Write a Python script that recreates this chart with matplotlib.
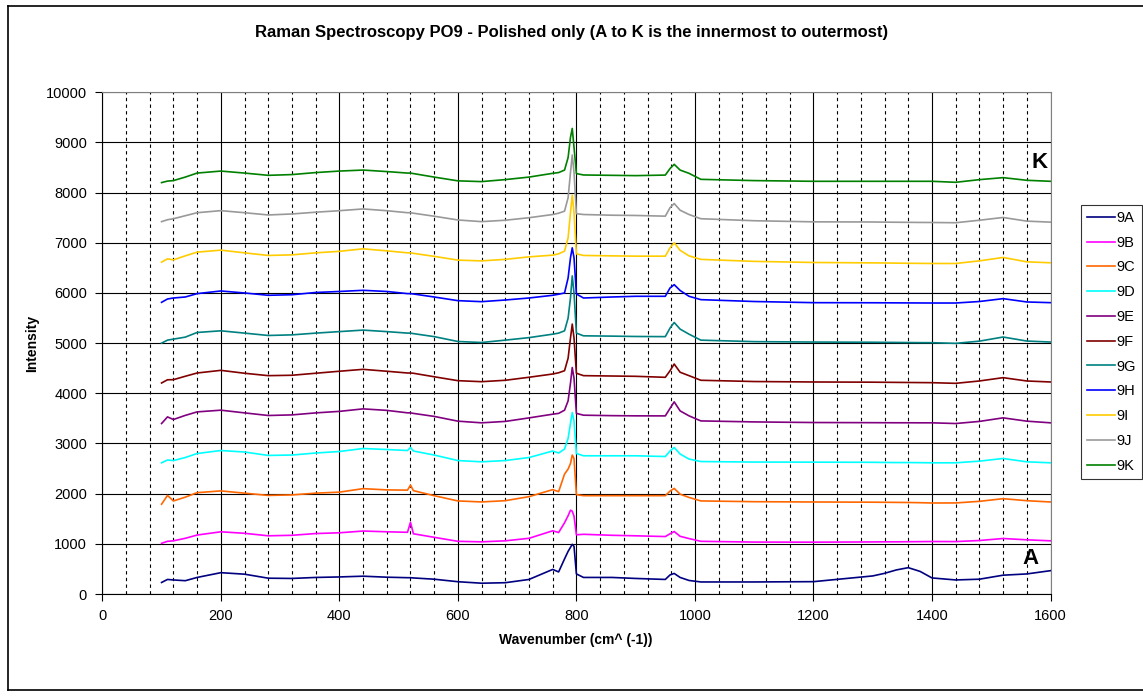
#!/usr/bin/env python3
# -*- coding: utf-8 -*-

from matplotlib import pyplot as plt
from matplotlib.lines import Line2D
import numpy as np

plt.rcParams['font.family'] = ['Liberation Sans', 'DejaVu Sans']

# Wavenumber points (cm^-1)
wavenumber = [100, 110, 120, 140, 160, 200, 240, 280, 320, 360,
              400, 440, 480, 515, 520, 525, 560, 600, 640, 680,
              720, 760, 770, 780, 786, 790, 793, 796, 800, 812,
              860, 900, 950, 958, 965, 975, 990, 1010, 1100, 1200,
              1300, 1320, 1340, 1360, 1380, 1400, 1440, 1480, 1520, 1560,
              1600]

s9A = [230, 290, 280, 265, 330, 425, 395, 315, 310, 330,
       340, 355, 335, 325, 325, 320, 295, 245, 215, 225,
       290, 490, 440, 700, 850, 930, 990, 950, 400, 330,
       330, 310, 290, 380, 410, 330, 270, 240, 240, 246,
       360, 412, 480, 525, 450, 320, 280, 295, 375, 400,
       465]
s9B = [1010, 1050, 1060, 1110, 1175, 1240, 1210, 1160, 1170, 1205,
       1220, 1255, 1240, 1230, 1430, 1200, 1130, 1050, 1040, 1060,
       1110, 1260, 1225, 1420, 1560, 1670, 1650, 1550, 1180, 1190,
       1170, 1160, 1145, 1200, 1245, 1150, 1105, 1050, 1035, 1033,
       1038, 1040, 1040, 1042, 1044, 1046, 1045, 1066, 1106, 1080,
       1060]
s9C = [1790, 1965, 1855, 1930, 2020, 2055, 2010, 1965, 1975, 2010,
       2030, 2100, 2075, 2070, 2170, 2060, 1960, 1855, 1835, 1860,
       1940, 2080, 2040, 2390, 2490, 2600, 2770, 2700, 1980, 1960,
       1960, 1960, 1960, 2050, 2105, 1990, 1925, 1855, 1840, 1834,
       1830, 1828, 1826, 1824, 1820, 1814, 1815, 1847, 1900, 1860,
       1834]
s9D = [2615, 2670, 2660, 2720, 2800, 2860, 2830, 2762, 2770, 2810,
       2840, 2900, 2880, 2860, 2920, 2850, 2770, 2660, 2635, 2660,
       2720, 2850, 2810, 2890, 3100, 3400, 3617, 3450, 2800, 2755,
       2755, 2755, 2740, 2850, 2920, 2790, 2690, 2640, 2630, 2628,
       2625, 2622, 2620, 2620, 2618, 2615, 2615, 2648, 2701, 2635,
       2615]
s9E = [3398, 3530, 3478, 3560, 3630, 3664, 3610, 3558, 3570, 3610,
       3640, 3690, 3660, 3611, 3611, 3600, 3540, 3445, 3412, 3440,
       3510, 3584, 3600, 3664, 3850, 4200, 4514, 4300, 3600, 3564,
       3555, 3551, 3550, 3700, 3830, 3650, 3551, 3450, 3430, 3418,
       3415, 3414, 3413, 3413, 3412, 3412, 3398, 3440, 3511, 3445,
       3412]
s9F = [4206, 4270, 4272, 4340, 4405, 4458, 4400, 4352, 4360, 4400,
       4440, 4478, 4440, 4405, 4405, 4400, 4330, 4252, 4232, 4260,
       4320, 4385, 4410, 4451, 4700, 5100, 5380, 5100, 4400, 4352,
       4345, 4339, 4319, 4450, 4584, 4420, 4352, 4260, 4235, 4226,
       4222, 4220, 4218, 4216, 4214, 4212, 4199, 4246, 4312, 4246,
       4226]
s9G = [5000, 5060, 5080, 5120, 5213, 5246, 5200, 5153, 5165, 5200,
       5230, 5260, 5230, 5200, 5200, 5190, 5130, 5033, 5013, 5060,
       5110, 5179, 5200, 5246, 5500, 5900, 6340, 6000, 5200, 5146,
       5140, 5133, 5130, 5300, 5412, 5280, 5179, 5060, 5030, 5022,
       5018, 5016, 5014, 5012, 5010, 5009, 4996, 5040, 5122, 5042,
       5022]
s9H = [5814, 5880, 5900, 5920, 5987, 6040, 6000, 5954, 5965, 6010,
       6030, 6053, 6030, 5987, 5987, 5980, 5920, 5847, 5827, 5860,
       5900, 5954, 5975, 6000, 6300, 6700, 6900, 6700, 5980, 5900,
       5920, 5934, 5934, 6100, 6166, 6050, 5934, 5867, 5830, 5807,
       5805, 5804, 5803, 5802, 5801, 5800, 5800, 5830, 5887, 5821,
       5807]
s9I = [6615, 6680, 6660, 6740, 6814, 6854, 6800, 6748, 6760, 6800,
       6830, 6880, 6840, 6800, 6800, 6790, 6730, 6655, 6640, 6670,
       6720, 6754, 6780, 6834, 7100, 7600, 7950, 7600, 6780, 6748,
       6740, 6734, 6734, 6900, 7000, 6850, 6740, 6670, 6630, 6608,
       6600, 6598, 6595, 6592, 6590, 6588, 6588, 6640, 6708, 6621,
       6602]
s9J = [7422, 7460, 7480, 7540, 7600, 7641, 7600, 7555, 7575, 7610,
       7640, 7675, 7640, 7600, 7600, 7590, 7530, 7455, 7422, 7450,
       7500, 7564, 7590, 7631, 7900, 8400, 8750, 8400, 7580, 7564,
       7550, 7545, 7531, 7700, 7783, 7650, 7564, 7480, 7440, 7418,
       7415, 7412, 7410, 7408, 7406, 7405, 7400, 7450, 7505, 7432,
       7412]
s9K = [8200, 8230, 8240, 8310, 8390, 8430, 8390, 8345, 8360, 8400,
       8430, 8450, 8420, 8390, 8390, 8380, 8310, 8235, 8220, 8260,
       8310, 8385, 8400, 8450, 8700, 9100, 9280, 8900, 8380, 8352,
       8345, 8339, 8350, 8480, 8564, 8450, 8385, 8265, 8240, 8226,
       8226, 8226, 8226, 8226, 8226, 8226, 8206, 8259, 8299, 8246,
       8226]

labels = ['9A', '9B', '9C', '9D', '9E', '9F', '9G', '9H', '9I', '9J', '9K']
series = [s9A, s9B, s9C, s9D, s9E, s9F, s9G, s9H, s9I, s9J, s9K]
colors = ['#000080', '#FF00FF', '#FF6600', '#00FFFF', '#800080', '#800000',
          '#008080', '#0000FF', '#FFCC00', '#999999', '#008000']

W, H = 1143, 697
fig = plt.figure(figsize=(W / 100, H / 100), dpi=100)
# plot area in pixels : x 102 -> 1050, y 92 -> 594
ax = fig.add_axes([102.3 / W, 1 - 594 / H, (1050.5 - 102.3) / W, (594 - 92.3) / H])

for y, lab, c in zip(series, labels, colors):
    ax.plot(wavenumber, y, color=c, lw=1.2, label=lab)

ax.set_xlim(0, 1600)
ax.set_ylim(0, 10000)
ax.set_xticks(np.arange(0, 1601, 200))
ax.set_yticks(np.arange(0, 10001, 1000))
ax.set_xticks(np.arange(40, 1600, 40), minor=True)
ax.tick_params(axis='both', which='major', direction='out', length=5, width=0.8,
               labelsize=10.5, pad=6)
ax.tick_params(axis='x', which='minor', length=0)

# grille facon Excel
ax.set_axisbelow(True)
ax.grid(True, which='major', axis='both', color='black', lw=0.8)
ax.grid(True, which='minor', axis='x', color='black', lw=0.8, linestyle=(0, (3, 3)))

ax.spines['top'].set_color('#808080')
ax.spines['right'].set_color('#808080')
ax.spines['left'].set_color('black')
ax.spines['bottom'].set_color('black')

ax.text(1581, 8605, 'K', fontsize=16, fontweight='bold', ha='center', va='center')
ax.text(1567, 700, 'A', fontsize=16, fontweight='bold', ha='center', va='center')

fig.text(0.5, 1 - 32 / H,
         'Raman Spectroscopy PO9 - Polished only (A to K is the innermost to outermost)',
         fontsize=12, fontweight='bold', ha='center', va='center')
fig.text(32 / W, 1 - 343 / H, 'Intensity', fontsize=10, fontweight='bold',
         rotation=90, ha='center', va='center')
fig.text(576 / W, 1 - 640 / H, 'Wavenumber (cm^ (-1))', fontsize=10,
         fontweight='bold', ha='center', va='center')

leg = fig.legend(loc='upper left', bbox_to_anchor=(1081 / W, 1 - 205 / H),
                 fontsize=10.5, frameon=True, fancybox=False, edgecolor='black',
                 handlelength=1.9, handletextpad=0.15, labelspacing=0.74,
                 borderpad=0.4, borderaxespad=0)
leg.get_frame().set_linewidth(0.8)

# bordure du graphique
fig.add_artist(Line2D([8 / W, 8 / W], [1 - 690 / H, 1 - 6 / H], color='black', lw=1.2))
fig.add_artist(Line2D([8 / W, 1], [1 - 6 / H, 1 - 6 / H], color='black', lw=1.2))
fig.add_artist(Line2D([8 / W, 1], [1 - 690 / H, 1 - 690 / H], color='black', lw=1.2))

fig.savefig('out.png', dpi=100)
